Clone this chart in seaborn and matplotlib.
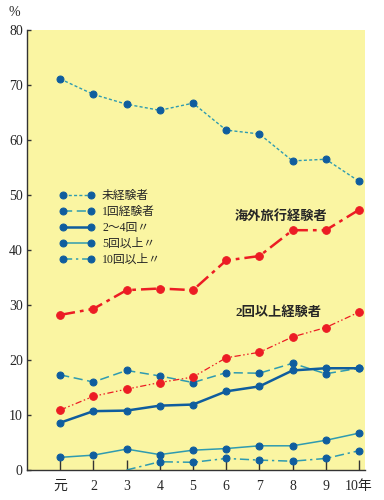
import numpy as np
import pandas as pd
import seaborn as sns
import matplotlib.pyplot as plt

sns.set_style("ticks")
plt.rcParams['font.family'] = ['Liberation Serif', 'Noto Sans CJK JP']

years = ["元", "2", "3", "4", "5", "6", "7", "8", "9", "10年"]

never = [71.1, 68.3, 66.5, 65.4, 66.7, 61.8, 61.1, 56.2, 56.5, 52.5]
once = [17.3, 16.0, 18.1, 17.1, 15.9, 17.7, 17.6, 19.4, 17.5, 18.5]
two_to_four = [8.6, 10.7, 10.8, 11.7, 11.9, 14.3, 15.2, 18.1, 18.5, 18.5]
five_plus = [2.3, 2.7, 3.8, 2.8, 3.6, 3.9, 4.4, 4.4, 5.4, 6.7]
ten_plus = [np.nan, np.nan, 0.0, 1.5, 1.4, 2.1, 1.8, 1.6, 2.1, 3.5]
abroad = [28.2, 29.3, 32.7, 33.0, 32.7, 38.1, 38.9, 43.6, 43.6, 47.3]
two_plus = [10.9, 13.4, 14.7, 15.9, 16.9, 20.4, 21.4, 24.2, 25.9, 28.7]

legend_labels = ["未経験者", "1回経験者", "2〜4回〃", "5回以上〃", "10回以上〃"]

blue = "#0f5d9e"
teal = "#2f9bb0"
red = "#ec1c24"

fig = plt.figure(figsize=(3.84, 5.0), dpi=100)
ax = fig.add_axes([0.0703, 0.06, 0.880, 0.88])
ax.set_facecolor("#faf5a2")

x = np.arange(len(years))

def draw(vals, color, ls, lw, label=None, mcolor=blue, ms=5):
    df = pd.DataFrame({"x": x, "y": vals}).dropna()
    skip = 1 if df["y"].iloc[0] == 0 else 0
    sns.lineplot(data=df, x="x", y="y", ax=ax, color=color, linestyle=ls, lw=lw,
                 marker="o", markersize=ms, markerfacecolor=mcolor,
                 markeredgecolor=mcolor, markevery=slice(skip, None),
                 label=label, legend=False, clip_on=False)

draw(never, teal, (0, (2.2, 1.6)), 1.0, legend_labels[0])
draw(once, teal, (0, (6, 3)), 1.1, legend_labels[1])
draw(two_to_four, blue, "-", 1.8, legend_labels[2])
draw(five_plus, teal, "-", 1.1, legend_labels[3])
draw(ten_plus, teal, (0, (6, 2.5, 1.5, 2.5)), 1.1, legend_labels[4])
draw(abroad, red, (0, (6, 2, 1.5, 2)), 1.8, mcolor=red, ms=5.5)
draw(two_plus, red, (0, (5, 2, 1.2, 2, 1.2, 2)), 0.9, mcolor=red, ms=5.5)

ax.set_xlim(-1.0, 9.18)
ax.set_ylim(0, 80)
ax.set_xticks(x)
ax.set_xticklabels(years)
ax.set_yticks(range(0, 81, 10))
ax.set_xlabel("")
ax.set_ylabel("")
ax.tick_params(axis="x", direction="in", length=7, width=1, color="#333333",
               labelsize=10, pad=7)
ax.tick_params(axis="y", direction="in", length=3, width=1, color="#333333",
               labelsize=10, pad=3)
for side in ["top", "right"]:
    ax.spines[side].set_visible(False)
for side in ["left", "bottom"]:
    ax.spines[side].set_color("#333333")
    ax.spines[side].set_linewidth(1)

leg = ax.legend(loc="upper left", bbox_to_anchor=(0.065, 0.66), frameon=False,
                numpoints=2, handlelength=3.0, handletextpad=0.6,
                labelspacing=0.33, fontsize=8.5)

ax.text(5.27, 46.0, "海外旅行経験者", fontsize=9.5, fontweight="bold", va="center")
ax.text(5.27, 28.7, "2回以上経験者", fontsize=9.5, fontweight="bold", va="center")
fig.text(14 / 384, 1 - 13 / 500, "%", fontsize=10, ha="center", va="center")

fig.savefig("out.png", dpi=100)
